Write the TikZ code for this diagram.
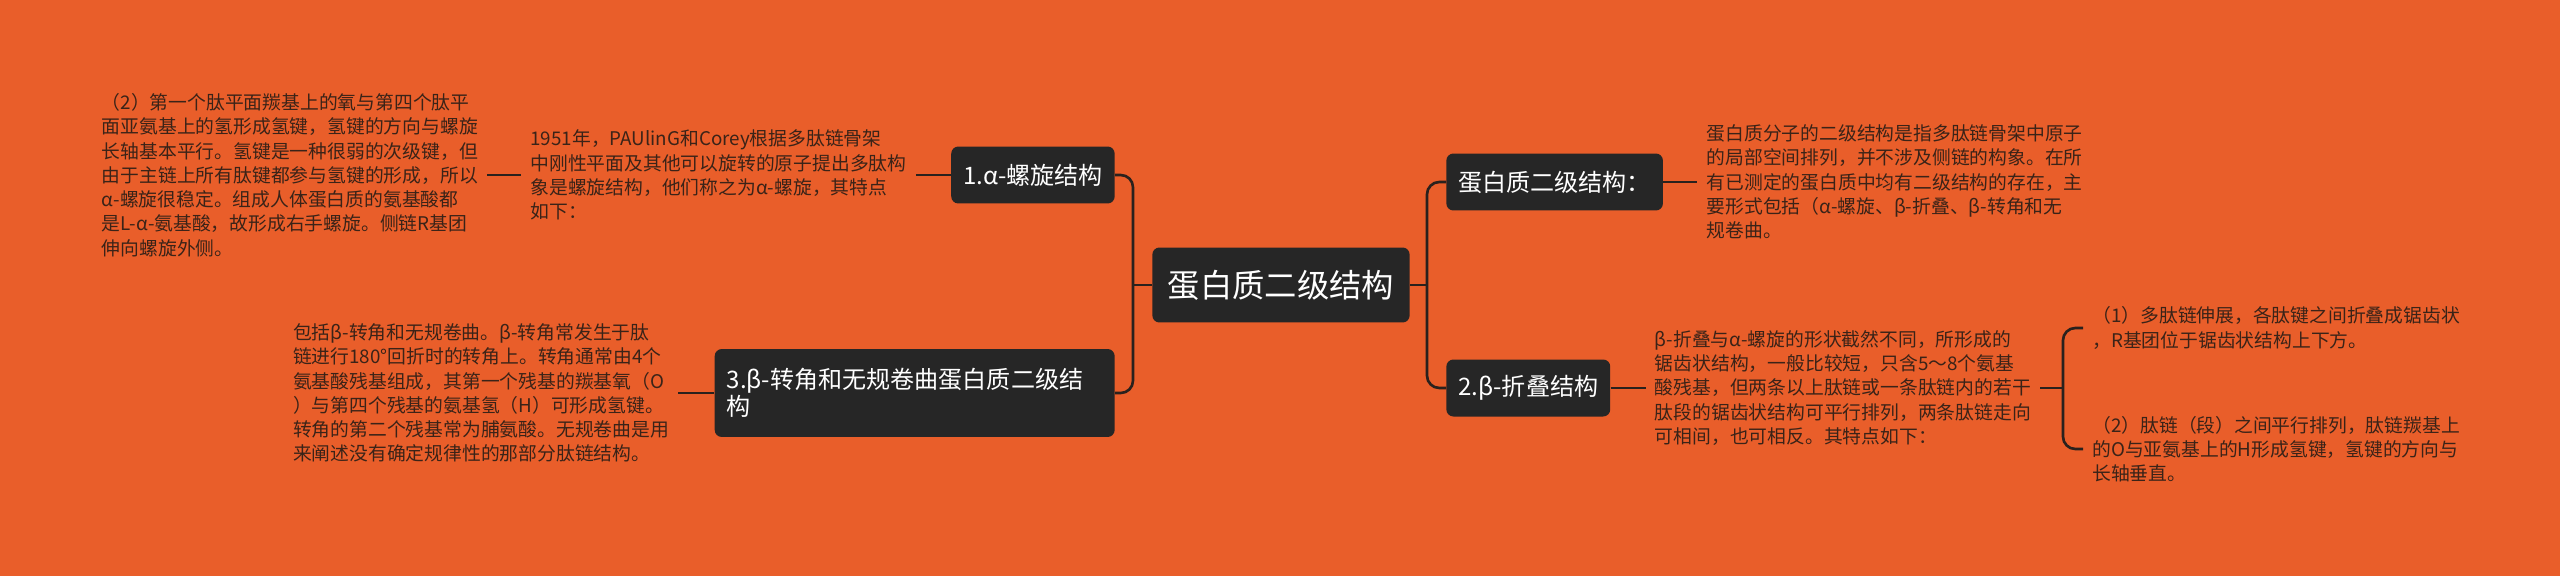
\documentclass[tikz,border=0pt]{standalone}
\usepackage{fontspec}
\setmainfont{Noto Sans CJK SC}
\usepackage{tikz}
\usetikzlibrary{positioning}
\definecolor{mapbg}{HTML}{E95E2A}
\definecolor{boxdark}{HTML}{262626}
\definecolor{notetext}{HTML}{3A2318}
\definecolor{linkdark}{HTML}{2A211D}

\begin{document}
\begin{tikzpicture}[x=0.02cm,y=-0.02cm,node distance=0.7cm,
root/.style={rounded corners=4pt,fill=boxdark,text=white,inner xsep=0.31cm,
minimum height=1.5cm,font=\fontsize{18.4pt}{22pt}\selectfont},
topic/.style={rounded corners=4pt,fill=boxdark,text=white,inner xsep=0.24cm,
minimum height=1.14cm,align=left,font=\fontsize{13.7pt}{15.3pt}\selectfont},
note/.style={text=notetext,inner xsep=0.18cm,inner ysep=0pt,align=left,
font=\fontsize{10.7pt}{13.8pt}\selectfont},
link/.style={draw=linkdark,line width=1.5pt,rounded corners=7pt}]
\useasboundingbox (0,0) rectangle (2560,575);
\fill[mapbg] (-20,-20) rectangle (2580,595);

\node[root] (root) at (1281,285) {蛋白质二级结构};
\node[topic,anchor=east] (alpha) at (1115,175) {1.α-螺旋结构};
\node[topic,anchor=east,text width=7.52cm,minimum height=1.76cm] (turn) at (1115,393)
{3.β-转角和无规卷曲蛋白质二级结\\构};
\node[topic,anchor=west] (level) at (1446,182) {蛋白质二级结构：};
\node[topic,anchor=west] (sheet) at (1446,388) {2.β-折叠结构};

\node[note,left=of alpha] (pauling) {1951年，PAUlinG和Corey根据多肽链骨架\\
中刚性平面及其他可以旋转的原子提出多肽构\\
象是螺旋结构，他们称之为α-螺旋，其特点\\
如下：};
\node[note,left=0.68cm of pauling] (helix) {（2）第一个肽平面羰基上的氧与第四个肽平\\
面亚氨基上的氢形成氢键，氢键的方向与螺旋\\
长轴基本平行。氢键是一种很弱的次级键，但\\
由于主链上所有肽键都参与氢键的形成，所以\\
α-螺旋很稳定。组成人体蛋白质的氨基酸都\\
是L-α-氨基酸，故形成右手螺旋。侧链R基团\\
伸向螺旋外侧。};
\node[note,left=0.72cm of turn] (turnnote) {包括β-转角和无规卷曲。β-转角常发生于肽\\
链进行180°回折时的转角上。转角通常由4个\\
氨基酸残基组成，其第一个残基的羰基氧（O\\
）与第四个残基的氨基氢（H）可形成氢键。\\
转角的第二个残基常为脯氨酸。无规卷曲是用\\
来阐述没有确定规律性的那部分肽链结构。};
\node[note,right=0.68cm of level] (define) {蛋白质分子的二级结构是指多肽链骨架中原子\\
的局部空间排列，并不涉及侧链的构象。在所\\
有已测定的蛋白质中均有二级结构的存在，主\\
要形式包括（α-螺旋、β-折叠、β-转角和无\\
规卷曲。};
\node[note,right=of sheet] (sheetnote) {β-折叠与α-螺旋的形状截然不同，所形成的\\
锯齿状结构，一般比较短，只含5～8个氨基\\
酸残基，但两条以上肽链或一条肽链内的若干\\
肽段的锯齿状结构可平行排列，两条肽链走向\\
可相间，也可相反。其特点如下：};
\node[note,anchor=west] (zigzag) at (2083,328) {（1）多肽链伸展，各肽键之间折叠成锯齿状\\
，R基团位于锯齿状结构上下方。};
\node[note,anchor=west] (hbond) at (2083,449) {（2）肽链（段）之间平行排列，肽链羰基上\\
的O与亚氨基上的H形成氢键，氢键的方向与\\
长轴垂直。};

\coordinate (lfork) at (1133,285);
\coordinate (rfork) at (1427,285);
\coordinate (nfork) at (2063,388);

\draw[link] (root.west) -- (lfork);
\draw[link] (alpha.east) -| (lfork) |- (turn.east);
\draw[link] (root.east) -- (rfork);
\draw[link] (level.west) -| (rfork) |- (sheet.west);
\draw[link] (pauling) -- (alpha);
\draw[link] (helix) -- (pauling);
\draw[link] (turnnote) -- (turn);
\draw[link] (level) -- (define);
\draw[link] (sheet) -- (sheetnote);
\draw[link] (sheetnote.east) -- (nfork);
\draw[link] (zigzag.west) -| (nfork) |- (hbond.west);
\end{tikzpicture}
\end{document}
